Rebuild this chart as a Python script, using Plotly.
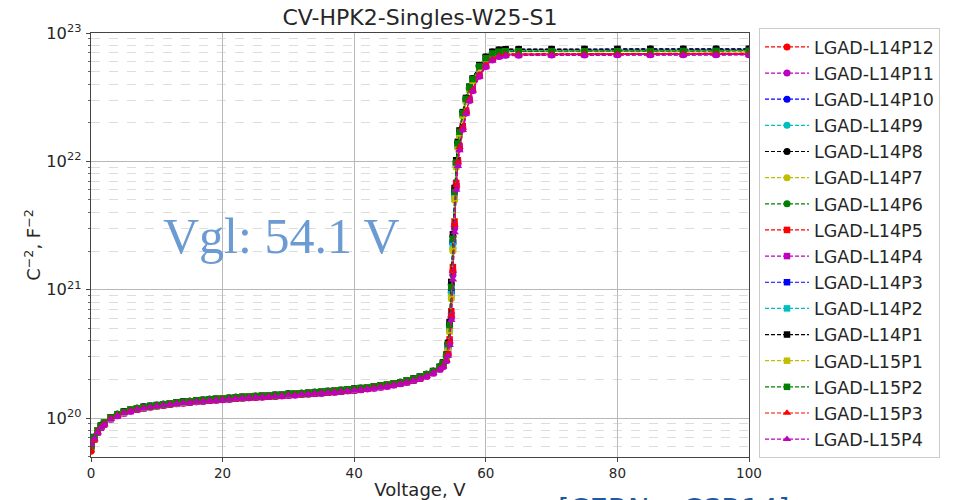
import plotly.graph_objects as go

# Bias voltage (V)
voltage = [0, 0.5, 1, 1.5, 2, 3, 4, 5, 6, 7, 8, 9, 10, 11, 12, 13, 14, 15, 16, 17, 18, 19, 20,
           21, 22, 23, 24, 25, 26, 27, 28, 29, 30, 31, 32, 33, 34, 35, 36, 37, 38, 39, 40,
           41, 42, 43, 44, 45, 46, 47, 48, 49, 50, 51, 52, 53, 53.5, 54, 54.25, 54.5, 54.75,
           55, 55.25, 55.5, 55.75, 56, 56.5, 57, 57.5, 58, 59, 60, 61, 62, 63,
           65, 70, 75, 80, 85, 90, 95, 100]

# C^-2 values in units of 1e20 F^-2
c2_L14P12 = [0.55,0.68,0.78,0.85,0.90,0.99,1.05,1.10,1.14,1.17,1.20,1.22,1.24,1.26,1.28,1.30,1.31,1.33,1.34,1.36,1.37,1.38,1.40,1.41,1.42,1.43,1.44,1.45,1.46,1.47,1.48,1.49,1.51,1.52,1.53,1.54,1.55,1.57,1.58,1.60,1.61,1.63,1.65,1.67,1.69,1.72,1.75,1.78,1.82,1.86,1.91,1.97,2.04,2.13,2.25,2.42,
             2.55,2.85,3.2,4.0,6.5,14,32,66,100,130,185,245,305,362,470,560,630,670,685,
             688,690,691,692,692,693,694,694]
c2_L14P11 = [0.62,0.69,0.77,0.84,0.89,0.98,1.04,1.09,1.13,1.17,1.19,1.22,1.24,1.26,1.28,1.29,1.31,1.32,1.34,1.35,1.37,1.38,1.39,1.40,1.42,1.43,1.44,1.45,1.46,1.47,1.48,1.49,1.50,1.51,1.53,1.54,1.55,1.56,1.58,1.59,1.61,1.63,1.64,1.66,1.69,1.71,1.74,1.77,1.81,1.85,1.90,1.96,2.03,2.12,2.24,2.40,
             2.52,2.8,3.1,3.8,6.0,13,30,62,95,125,178,238,298,355,460,548,615,655,670,
             672,674,675,676,676,677,678,678]
c2_L14P10 = [0.61,0.71,0.80,0.87,0.92,1.01,1.07,1.12,1.16,1.19,1.22,1.24,1.26,1.28,1.30,1.32,1.34,1.35,1.37,1.38,1.40,1.41,1.42,1.43,1.45,1.46,1.47,1.48,1.49,1.50,1.51,1.52,1.54,1.55,1.56,1.57,1.59,1.60,1.62,1.63,1.65,1.67,1.69,1.71,1.73,1.76,1.79,1.82,1.86,1.90,1.96,2.02,2.10,2.19,2.32,2.50,
             2.66,3.0,3.6,5.0,9.5,23,55,95,135,165,232,300,370,430,550,640,700,725,732,
             734,735,736,737,737,738,738,739]
c2_L14P9 = [0.59,0.70,0.80,0.86,0.92,1.00,1.07,1.11,1.16,1.19,1.21,1.24,1.26,1.28,1.30,1.31,1.33,1.35,1.36,1.38,1.39,1.41,1.42,1.43,1.44,1.46,1.47,1.48,1.49,1.50,1.51,1.52,1.53,1.55,1.56,1.57,1.58,1.60,1.61,1.63,1.65,1.66,1.68,1.71,1.73,1.75,1.78,1.82,1.85,1.90,1.95,2.01,2.09,2.18,2.31,2.48,
            2.64,2.98,3.5,4.8,9.0,21,52,92,130,160,228,295,365,425,545,635,695,718,724,
            726,727,728,729,729,730,730,731]
c2_L14P8 = [0.60,0.71,0.80,0.87,0.92,1.01,1.07,1.12,1.16,1.19,1.22,1.24,1.26,1.28,1.30,1.32,1.34,1.35,1.37,1.38,1.40,1.41,1.42,1.43,1.45,1.46,1.47,1.48,1.49,1.50,1.51,1.52,1.54,1.55,1.56,1.57,1.59,1.60,1.62,1.63,1.65,1.67,1.69,1.71,1.73,1.76,1.79,1.82,1.86,1.90,1.96,2.02,2.10,2.19,2.32,2.50,
            2.70,3.1,3.8,5.5,11,26,60,100,140,172,240,310,380,440,560,650,712,738,745,
            746,747,748,748,749,749,750,750]
c2_L14P7 = [0.58,0.70,0.80,0.86,0.92,1.00,1.07,1.11,1.16,1.19,1.21,1.24,1.26,1.28,1.30,1.31,1.33,1.35,1.36,1.38,1.39,1.41,1.42,1.43,1.44,1.46,1.47,1.48,1.49,1.50,1.51,1.52,1.53,1.55,1.56,1.57,1.58,1.60,1.61,1.63,1.65,1.66,1.68,1.71,1.73,1.75,1.78,1.82,1.85,1.90,1.95,2.01,2.09,2.18,2.31,2.48,
            2.62,2.95,3.5,4.7,8.5,20,50,90,128,158,225,292,360,420,540,630,688,712,718,
            720,721,722,723,723,724,724,725]
c2_L14P6 = [0.62,0.71,0.80,0.87,0.92,1.01,1.07,1.12,1.16,1.19,1.22,1.24,1.26,1.28,1.30,1.32,1.34,1.35,1.37,1.38,1.40,1.41,1.42,1.43,1.45,1.46,1.47,1.48,1.49,1.50,1.51,1.52,1.54,1.55,1.56,1.57,1.59,1.60,1.62,1.63,1.65,1.67,1.69,1.71,1.73,1.76,1.79,1.82,1.86,1.90,1.96,2.02,2.10,2.19,2.32,2.50,
            2.68,3.05,3.7,5.2,10,24,57,97,137,168,236,305,375,435,552,640,695,716,722,
            723,724,725,726,726,727,727,728]
c2_L14P5 = [0.57,0.68,0.78,0.85,0.90,0.99,1.05,1.10,1.14,1.17,1.20,1.22,1.24,1.26,1.28,1.30,1.31,1.33,1.34,1.36,1.37,1.38,1.40,1.41,1.42,1.43,1.44,1.45,1.46,1.47,1.48,1.49,1.51,1.52,1.53,1.54,1.55,1.57,1.58,1.60,1.61,1.63,1.65,1.67,1.69,1.72,1.75,1.78,1.82,1.86,1.91,1.97,2.04,2.13,2.25,2.42,
            2.56,2.88,3.25,4.1,6.8,15,34,68,102,132,188,248,308,365,472,562,632,672,686,
            689,690,692,692,693,694,694,695]
c2_L14P4 = [0.60,0.69,0.77,0.84,0.89,0.98,1.04,1.09,1.13,1.17,1.19,1.22,1.24,1.26,1.28,1.29,1.31,1.32,1.34,1.35,1.37,1.38,1.39,1.40,1.42,1.43,1.44,1.45,1.46,1.47,1.48,1.49,1.50,1.51,1.53,1.54,1.55,1.56,1.58,1.59,1.61,1.63,1.64,1.66,1.69,1.71,1.74,1.77,1.81,1.85,1.90,1.96,2.03,2.12,2.24,2.40,
            2.53,2.82,3.15,3.9,6.2,13.5,31,64,97,127,181,241,300,358,463,552,620,660,674,
            676,678,679,680,680,681,682,682]
c2_L14P3 = [0.60,0.71,0.80,0.87,0.92,1.01,1.07,1.12,1.16,1.19,1.22,1.24,1.26,1.28,1.30,1.32,1.34,1.35,1.37,1.38,1.40,1.41,1.42,1.43,1.45,1.46,1.47,1.48,1.49,1.50,1.51,1.52,1.54,1.55,1.56,1.57,1.59,1.60,1.62,1.63,1.65,1.67,1.69,1.71,1.73,1.76,1.79,1.82,1.86,1.90,1.96,2.02,2.10,2.19,2.32,2.50,
            2.67,3.02,3.65,5.1,9.8,23.5,56,96,136,166,234,302,372,432,552,642,702,727,734,
            736,737,738,739,739,740,740,741]
c2_L14P2 = [0.59,0.70,0.80,0.86,0.92,1.00,1.07,1.11,1.16,1.19,1.21,1.24,1.26,1.28,1.30,1.31,1.33,1.35,1.36,1.38,1.39,1.41,1.42,1.43,1.44,1.46,1.47,1.48,1.49,1.50,1.51,1.52,1.53,1.55,1.56,1.57,1.58,1.60,1.61,1.63,1.65,1.66,1.68,1.71,1.73,1.75,1.78,1.82,1.85,1.90,1.95,2.01,2.09,2.18,2.31,2.48,
            2.65,2.99,3.55,4.9,9.2,22,53,93,131,161,229,297,367,427,547,637,697,720,727,
            729,730,731,732,732,733,733,734]
c2_L14P1 = [0.61,0.71,0.80,0.87,0.92,1.01,1.07,1.12,1.16,1.19,1.22,1.24,1.26,1.28,1.30,1.32,1.34,1.35,1.37,1.38,1.40,1.41,1.42,1.43,1.45,1.46,1.47,1.48,1.49,1.50,1.51,1.52,1.54,1.55,1.56,1.57,1.59,1.60,1.62,1.63,1.65,1.67,1.69,1.71,1.73,1.76,1.79,1.82,1.86,1.90,1.96,2.02,2.10,2.19,2.32,2.50,
            2.71,3.12,3.85,5.6,11.5,27,62,102,142,174,242,312,382,442,562,652,714,741,748,
            749,750,751,751,752,752,753,753]
c2_L15P1 = [0.59,0.70,0.80,0.86,0.92,1.00,1.07,1.11,1.16,1.19,1.21,1.24,1.26,1.28,1.30,1.31,1.33,1.35,1.36,1.38,1.39,1.41,1.42,1.43,1.44,1.46,1.47,1.48,1.49,1.50,1.51,1.52,1.53,1.55,1.56,1.57,1.58,1.60,1.61,1.63,1.65,1.66,1.68,1.71,1.73,1.75,1.78,1.82,1.85,1.90,1.95,2.01,2.09,2.18,2.31,2.48,
            2.63,2.96,3.52,4.75,8.7,20.5,51,91,129,159,226,293,362,422,540,628,686,710,716,
            718,719,720,721,721,722,722,723]
c2_L15P2 = [0.60,0.71,0.80,0.87,0.92,1.01,1.07,1.12,1.16,1.19,1.22,1.24,1.26,1.28,1.30,1.32,1.34,1.35,1.37,1.38,1.40,1.41,1.42,1.43,1.45,1.46,1.47,1.48,1.49,1.50,1.51,1.52,1.54,1.55,1.56,1.57,1.59,1.60,1.62,1.63,1.65,1.67,1.69,1.71,1.73,1.76,1.79,1.82,1.86,1.90,1.96,2.02,2.10,2.19,2.32,2.50,
            2.69,3.08,3.75,5.3,10.5,25,58,98,138,170,238,307,377,437,550,636,692,713,719,
            720,721,722,722,723,723,724,724]
c2_L15P3 = [0.56,0.68,0.78,0.85,0.90,0.99,1.05,1.10,1.14,1.17,1.20,1.22,1.24,1.26,1.28,1.30,1.31,1.33,1.34,1.36,1.37,1.38,1.40,1.41,1.42,1.43,1.44,1.45,1.46,1.47,1.48,1.49,1.51,1.52,1.53,1.54,1.55,1.57,1.58,1.60,1.61,1.63,1.65,1.67,1.69,1.72,1.75,1.78,1.82,1.86,1.91,1.97,2.04,2.13,2.25,2.42,
            2.54,2.84,3.18,3.95,6.3,14,32,65,99,129,183,243,303,360,466,556,625,665,679,
            682,683,685,685,686,687,687,688]
c2_L15P4 = [0.62,0.69,0.77,0.84,0.89,0.98,1.04,1.09,1.13,1.17,1.19,1.22,1.24,1.26,1.28,1.29,1.31,1.32,1.34,1.35,1.37,1.38,1.39,1.40,1.42,1.43,1.44,1.45,1.46,1.47,1.48,1.49,1.50,1.51,1.53,1.54,1.55,1.56,1.58,1.59,1.61,1.63,1.64,1.66,1.69,1.71,1.74,1.77,1.81,1.85,1.90,1.96,2.03,2.12,2.24,2.40,
            2.50,2.78,3.05,3.7,5.8,12,28,60,92,122,175,235,295,352,455,544,610,650,665,
            668,670,671,672,672,673,674,674]

series_names = ["LGAD-L14P12", "LGAD-L14P11", "LGAD-L14P10", "LGAD-L14P9", "LGAD-L14P8",
                "LGAD-L14P7", "LGAD-L14P6", "LGAD-L14P5", "LGAD-L14P4", "LGAD-L14P3",
                "LGAD-L14P2", "LGAD-L14P1", "LGAD-L15P1", "LGAD-L15P2", "LGAD-L15P3",
                "LGAD-L15P4"]
series_values = [c2_L14P12, c2_L14P11, c2_L14P10, c2_L14P9, c2_L14P8, c2_L14P7, c2_L14P6,
                 c2_L14P5, c2_L14P4, c2_L14P3, c2_L14P2, c2_L14P1, c2_L15P1, c2_L15P2,
                 c2_L15P3, c2_L15P4]
series_colors = ["#ff0000", "#bf00bf", "#0000ff", "#00bfbf", "#000000", "#bfbf00", "#008000",
                 "#ff0000", "#bf00bf", "#0000ff", "#00bfbf", "#000000", "#bfbf00", "#008000",
                 "#ff0000", "#bf00bf"]
series_symbols = ["circle"] * 7 + ["square"] * 7 + ["triangle-up"] * 2

for v in series_values:
    assert len(v) == len(voltage), len(v)

marker_size = {"circle": 7, "square": 6.5, "triangle-up": 7.5}

fig = go.Figure()
for name, vals, color, sym in zip(series_names, series_values, series_colors, series_symbols):
    fig.add_trace(go.Scatter(
        x=voltage, y=[v * 1e20 for v in vals], name=name, mode="lines+markers",
        legendgroup=name,
        line=dict(color=color, width=1.2, dash="4px,2px"),
        marker=dict(color=color, symbol=sym, size=marker_size[sym], line=dict(width=0)),
    ))

fig.update_layout(
    width=955, height=500,
    margin=dict(l=91, r=206, t=33, b=43),
    paper_bgcolor="white", plot_bgcolor="white",
    font=dict(family="DejaVu Sans", color="#262626"),
    title=dict(text="CV-HPK2-Singles-W25-S1", x=0.5, xref="paper", xanchor="center",
               y=1 - 17 / 500, yref="container", yanchor="middle", font=dict(size=22)),
    legend=dict(x=1.0152, xanchor="left", y=1 + 5 / 424.6, yanchor="top",
                bordercolor="#cccccc", borderwidth=1, bgcolor="white",
                font=dict(size=17.5, family="DejaVu Sans"),
                traceorder="grouped", tracegroupgap=0.4, itemwidth=44, maxheight=500),
    showlegend=True,
    xaxis=dict(range=[0, 100], tickvals=[0, 20, 40, 60, 80, 100], automargin=False,
               showgrid=True, gridcolor="#b8b8b8", gridwidth=1, zeroline=False,
               showline=True, linecolor="#444444", linewidth=1, mirror=True,
               ticks="outside", ticklen=4, tickcolor="#444444",
               tickfont=dict(size=13.5), ticklabelstandoff=0,
               title=dict(text="Voltage, V", font=dict(size=18), standoff=9)),
    yaxis=dict(type="log", range=[19.6965, 23], dtick=1, exponentformat="power",
               automargin=False,
               showgrid=True, gridcolor="#b8b8b8", gridwidth=1, zeroline=False,
               showline=True, linecolor="#444444", linewidth=1, mirror=True,
               ticks="outside", ticklen=4, tickcolor="#444444",
               tickfont=dict(size=13), ticklabelstandoff=2,
               minor=dict(ticks="outside", ticklen=2.5, tickcolor="#666666",
                          showgrid=True, gridcolor="#dddddd", griddash="dash", gridwidth=1),
               title=dict(text="C<sup>−2</sup>, F<sup>−2</sup>", font=dict(size=18), standoff=0)),
    annotations=[
        dict(text="Vgl: 54.1 V", x=0.29, y=0.521, xref="paper", yref="paper",
             xanchor="center", yanchor="middle", showarrow=False,
             font=dict(family="Liberation Serif", size=50, color="#6b9bd2")),
    ],
    shapes=[
        # Source caption below the chart, cut off by the bottom edge of the page
        dict(type="rect", xref="paper", yref="paper", x0=0.705, x1=1.25,
             y0=-0.30, y1=-0.0777, line=dict(width=0), fillcolor="rgba(0,0,0,0)",
             label=dict(text="[CERN – CSR14]", textposition="top left", padding=0,
                        font=dict(family="DejaVu Sans", size=29, color="#1f5aa0"))),
    ],
)

fig.write_html("out.html")
